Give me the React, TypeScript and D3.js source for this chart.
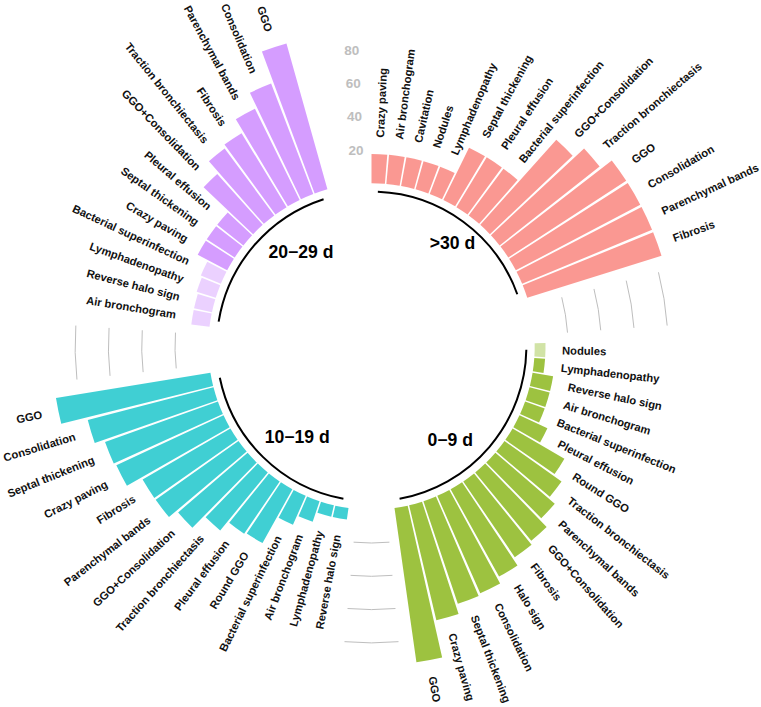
import React from 'react';
import * as d3 from 'd3';

// groups in the order they are laid out clockwise from 12 o'clock
const groupNames = ['>30 d', '0\u22129 d', '10\u221219 d', '20\u221229 d'];
const groupColors = ['#F8766D', '#7CAE00', '#00BFC4', '#C77CFF'];

const labels30 = ['Crazy paving', 'Air bronchogram', 'Cavitation', 'Nodules', 'Lymphadenopathy',
  'Septal thickening', 'Pleural effusion', 'Bacterial superinfection', 'GGO+Consolidation',
  'Traction bronchiectasis', 'GGO', 'Consolidation', 'Parenchymal bands', 'Fibrosis'];
const values30 = [17.6, 17.6, 17.6, 17.6, 17.6, 35, 35, 35, 68.5, 76.5, 84.5, 84.5, 84.5, 84.5];

const labels09 = ['Nodules', 'Lymphadenopathy', 'Reverse halo sign', 'Air bronchogram',
  'Bacterial superinfection', 'Pleural effusion', 'Round GGO', 'Traction bronchiectasis',
  'Parenchymal bands', 'GGO+Consolidation', 'Fibrosis', 'Halo sign', 'Consolidation',
  'Septal thickening', 'Crazy paving', 'GGO'];
const values09 = [6.5, 6.5, 12.5, 12.5, 12.5, 18.5, 36, 42, 47, 53, 55, 60, 64, 65, 71, 93.5];

const labels1019 = ['Reverse halo sign', 'Lymphadenopathy', 'Air bronchogram', 'Bacterial superinfection',
  'Round GGO', 'Pleural effusion', 'Traction bronchiectasis', 'GGO+Consolidation', 'Parenchymal bands',
  'Fibrosis', 'Crazy paving', 'Septal thickening', 'Consolidation', 'GGO'];
const values1019 = [7, 7, 13, 19, 37, 38, 45, 55, 61, 61, 71, 72, 78, 94];

const labels2029 = ['Air bronchogram', 'Reverse halo sign', 'Lymphadenopathy', 'Bacterial superinfection',
  'Crazy paving', 'Septal thickening', 'Pleural effusion', 'GGO+Consolidation', 'Traction bronchiectasis',
  'Fibrosis', 'Parenchymal bands', 'Consolidation', 'GGO'];
const values2029 = [11, 11, 12, 13, 20, 20, 20, 41, 50, 52, 61, 71, 91];

// bars drawn paler
const faint09 = ['Nodules'];
const faint2029 = ['Air bronchogram', 'Reverse halo sign', 'Lymphadenopathy', 'Bacterial superinfection'];

const gridTicks = [20, 40, 60, 80];
const emptyBar = 3;

const W = 761, H = 707;
const cx = 371.5, cy = 346.5;
const font = '"Liberation Sans", Arial, Helvetica, sans-serif';

// title nudges [dx, dy, anchor]
const titleNudge: [number, number, string][] = [[2, 4, 'middle'], [0, 7, 'end'], [19, -5, 'middle'], [-2, -8, 'start']];

const series = [
  { labels: labels30, values: values30, faint: [] as string[] },
  { labels: labels09, values: values09, faint: faint09 },
  { labels: labels1019, values: values1019, faint: [] as string[] },
  { labels: labels2029, values: values2029, faint: faint2029 },
];

export default function App() {
  const rows: any[] = [];
  const bases: { start: number; end: number }[] = [];
  let id = 0;
  series.forEach((s, g) => {
    const start = id + 1;
    s.labels.forEach((lab, i) => {
      id++;
      rows.push({ id, group: g, label: lab, value: s.values[i], faint: s.faint.includes(lab) });
    });
    bases.push({ start, end: id });
    id += emptyBar;
  });
  const n = id;

  const theta = d3.scaleLinear().domain([0.55, n + 0.45]).range([0, 2 * Math.PI]);
  const r = d3.scaleLinear().domain([0, 80]).range([163.2, 296.4]);
  const arc = d3.arc<any>();

  const arcPath = (rad: number, a0: number, a1: number) => {
    const p = d3.path();
    p.arc(0, 0, rad, a0 - Math.PI / 2, a1 - Math.PI / 2);
    return p.toString();
  };
  const polar = (a: number, rad: number) => [rad * Math.sin(a), -rad * Math.cos(a)];

  return (
    <svg width={W} height={H} style={{ position: 'absolute', left: 0, top: 0, background: '#fff' }}>
      <g transform={`translate(${cx},${cy})`}>
        {/* grid arcs in the gaps (not before the first group) */}
        {bases.slice(0, -1).map((b, g) =>
          gridTicks.map(t => (
            <path key={`grid${g}-${t}`} d={arcPath(r(t), theta(b.end + 1), theta(bases[g + 1].start - 1))}
              fill="none" stroke="#BEBEBE" strokeWidth={1} />
          ))
        )}
        {rows.map(d => (
          <path key={`bar${d.id}`}
            d={arc({ innerRadius: r(0), outerRadius: r(d.value), startAngle: theta(d.id - 0.45), endAngle: theta(d.id + 0.45) })!}
            fill={groupColors[d.group]} fillOpacity={d.faint ? 0.35 : 0.75} />
        ))}
        {rows.map(d => {
          const a = theta(d.id);
          const deg = a * 180 / Math.PI;
          const [x, y] = polar(a, r(d.value + 10));
          const flip = deg > 180;
          return (
            <text key={`lab${d.id}`} x={x} y={y} transform={`rotate(${flip ? deg + 90 : deg - 90},${x},${y})`}
              textAnchor={flip ? 'end' : 'start'} dominantBaseline="central"
              fontFamily={font} fontWeight="bold" fontSize={11.2} fill="#111">{d.label}</text>
          );
        })}
        {bases.map((b, g) => (
          <path key={`base${g}`} d={arcPath(r(-5), theta(b.start), theta(b.end))}
            fill="none" stroke="#000" strokeWidth={2} />
        ))}
        {bases.map((b, g) => {
          const [x, y] = polar(theta((b.start + b.end) / 2), r(-18));
          const [dx, dy, anchor] = titleNudge[g];
          return (
            <text key={`title${g}`} x={x + dx} y={y + dy} textAnchor={anchor} dominantBaseline="central"
              fontFamily={font} fontWeight="bold" fontSize={17.6} fill="#000">{groupNames[g]}</text>
          );
        })}
        {gridTicks.map(t => {
          const [x, y] = polar(theta(n), r(t));
          return (
            <text key={`tick${t}`} x={x} y={y} textAnchor="end" dominantBaseline="central"
              fontFamily={font} fontWeight="bold" fontSize={13.5} fill="#BEBEBE">{t}</text>
          );
        })}
      </g>
    </svg>
  );
}
